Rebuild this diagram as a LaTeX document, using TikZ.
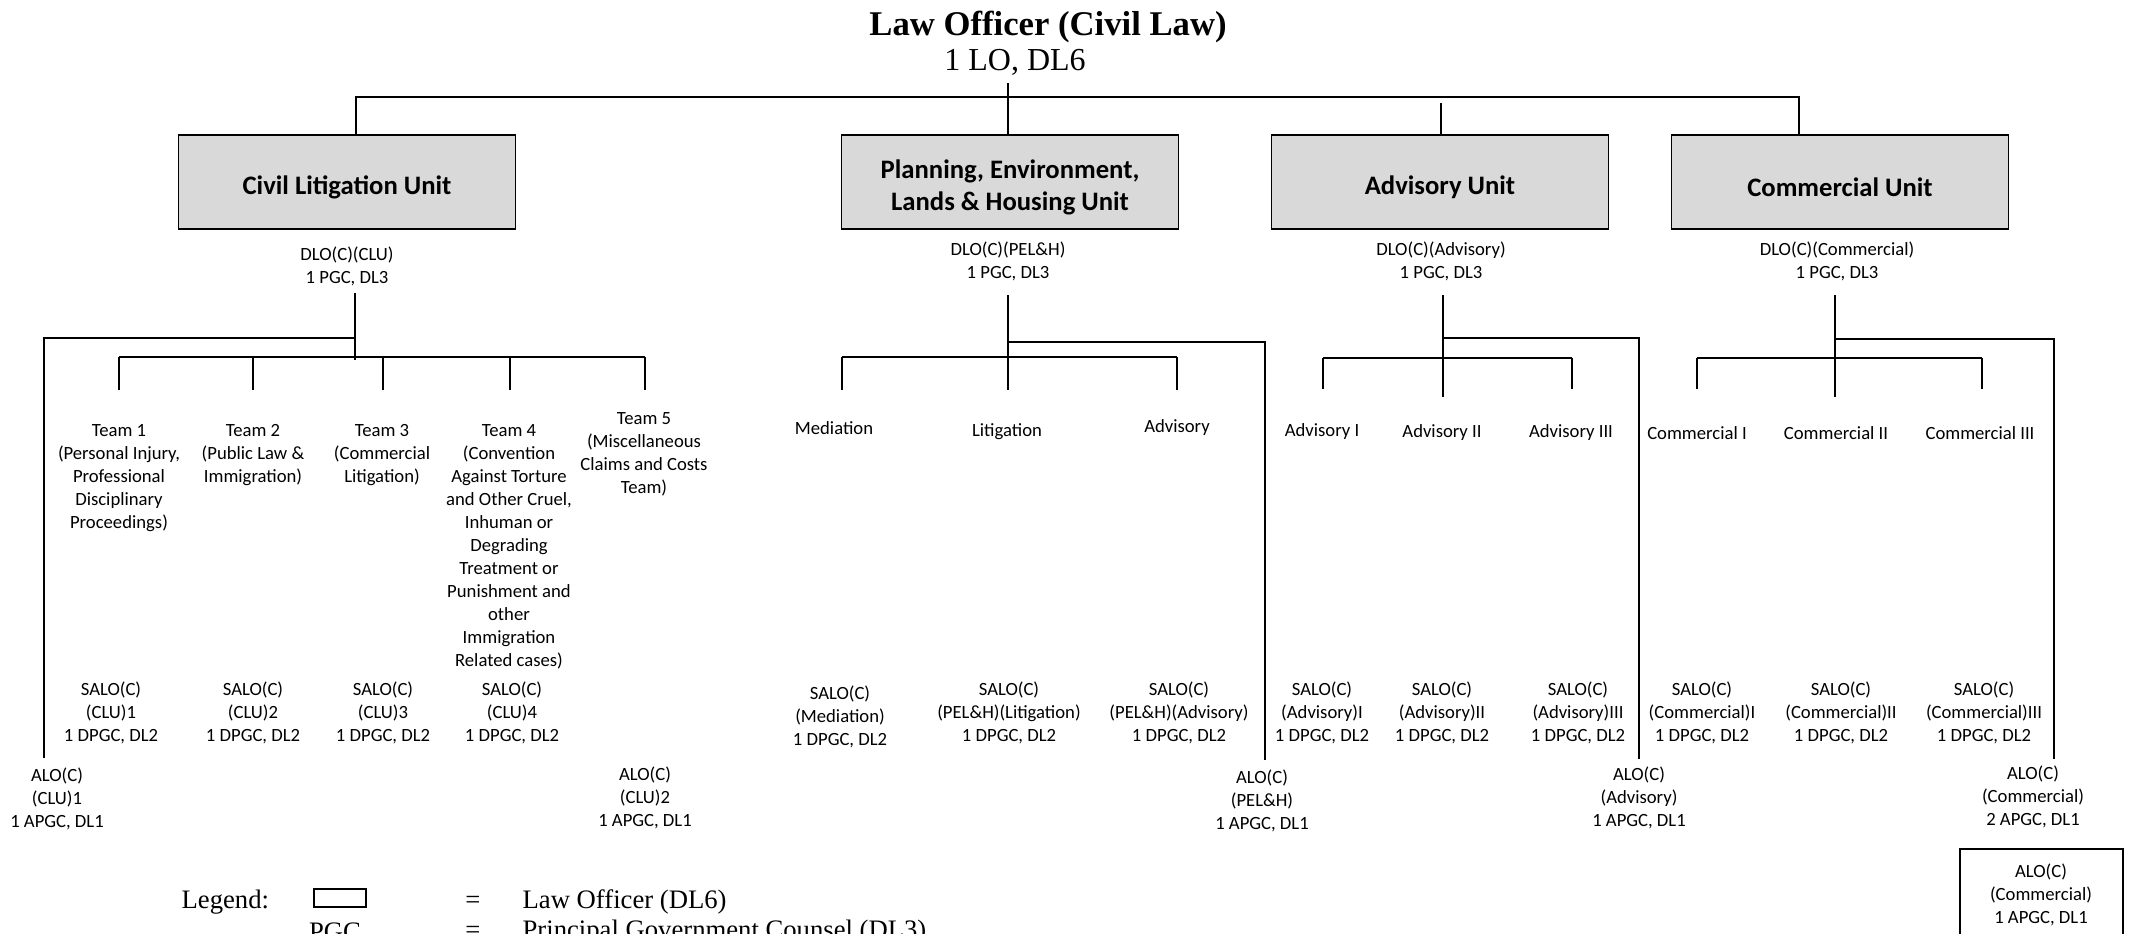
\documentclass[tikz,border=0pt]{standalone}
\usepackage{fontspec}
\setmainfont{Liberation Serif}
\newfontfamily\carlito{Carlito}
\definecolor{unitgray}{HTML}{D9D9D9}
\tikzset{
	unittext/.style={inner sep=0pt, align=center, yshift=-3.75pt, font=\carlito\bfseries\fontsize{20}{24}\selectfont},
	unitbox/.style={draw=black, line width=1pt, fill=unitgray, minimum width=252.75pt, minimum height=70.5pt, label={[unittext]center:#1}},
	lbl/.style={inner sep=0pt, align=center, font=\carlito\fontsize{14}{17.25}\selectfont},
	leg/.style={inner sep=0pt, font=\fontsize{20}{24}\selectfont}
}

\begin{document}
\begin{tikzpicture}[x=0.75pt, y=-0.75pt, line width=1pt]
		\useasboundingbox (0,0) rectangle (2132,933);
		\clip (0,0) rectangle (2132,933);
		% head
		\node[inner sep=0pt, font=\bfseries\fontsize{26}{30}\selectfont] (lo) at (1048,27) {Law Officer (Civil Law)};
		\node[inner sep=0pt, font=\fontsize{24}{28}\selectfont] (lodl) at (1015,62) {1 LO, DL6};
		\coordinate (lotop) at (1008,83);
		\coordinate (busl) at (356,97);
		\coordinate (busr) at (1799,97);
		\coordinate (advtop) at (1441,103);
		% units
		\node[unitbox={Civil Litigation Unit}] (clu) at (347,182) {};
		\node[unitbox={Planning, Environment,\\Lands \& Housing Unit}] (pel) at (1010,182) {};
		\node[unitbox={Advisory Unit}] (adv) at (1440,182) {};
		\node[unitbox={Commercial Unit}] (com) at (1840,182) {};
		\draw (clu.north -| busl) -- (busl) -- (busr) -- (com.north -| busr);
		\draw (lotop) -- (lotop |- pel.north);
		\draw (advtop) -- (advtop |- adv.north);
		% deputies
		\node[lbl] (dclu) at (347,266) {DLO(C)(CLU)\\1 PGC, DL3};
		\node[lbl] (dpel) at (1008,261) {DLO(C)(PEL\&H)\\1 PGC, DL3};
		\node[lbl] (dadv) at (1441,261) {DLO(C)(Advisory)\\1 PGC, DL3};
		\node[lbl] (dcom) at (1837,261) {DLO(C)(Commercial)\\1 PGC, DL3};
		% civil litigation unit
		\coordinate (cs0) at (355,293);
		\coordinate (cs1) at (355,360);
		\coordinate (cb) at (44,338);
		\coordinate (cbe) at (44,758);
		\draw (cs0) -- (cs1);
		\draw (cs0 |- cb) -- (cb) -- (cbe);
		\draw (119,357) -- (645,357);
		\foreach \x in {119,253,383,510,645} \draw (\x,357) -- (\x,390);
		\node[lbl] (t1) at (119,478) {Team 1\\(Personal Injury,\\Professional\\Disciplinary\\Proceedings)};
		\node[lbl] (t2) at (253,455) {Team 2\\(Public Law \&\\Immigration)};
		\node[lbl] (t3) at (382,455) {Team 3\\(Commercial\\Litigation)};
		\node[lbl] (t4) at (509,547) {Team 4\\(Convention\\Against Torture\\and Other Cruel,\\Inhuman or\\Degrading\\Treatment or\\Punishment and\\other\\Immigration\\Related cases)};
		\node[lbl] (t5) at (644,454.5) {Team 5\\(Miscellaneous\\Claims and Costs\\Team)};
		\node[lbl] (sc1) at (111,713) {SALO(C)\\(CLU)1\\1 DPGC, DL2};
		\node[lbl] (sc2) at (253,713) {SALO(C)\\(CLU)2\\1 DPGC, DL2};
		\node[lbl] (sc3) at (383,713) {SALO(C)\\(CLU)3\\1 DPGC, DL2};
		\node[lbl] (sc4) at (512,713) {SALO(C)\\(CLU)4\\1 DPGC, DL2};
		\node[lbl] (ac1) at (57,799) {ALO(C)\\(CLU)1\\1 APGC, DL1};
		\node[lbl] (ac2) at (645,798) {ALO(C)\\(CLU)2\\1 APGC, DL1};
		% planning, environment, lands & housing unit
		\coordinate (ps0) at (1008,295);
		\coordinate (ps1) at (1008,390);
		\coordinate (pb) at (1265,342);
		\coordinate (pbe) at (1265,760);
		\draw (ps0) -- (ps1);
		\draw (ps0 |- pb) -- (pb) -- (pbe);
		\draw (842,357) -- (1177,357);
		\foreach \x in {842,1177} \draw (\x,357) -- (\x,390);
		\node[lbl] (pm) at (834,428) {Mediation};
		\node[lbl] (pl) at (1007,432) {Litigation};
		\node[lbl] (pa) at (1177,428) {Advisory};
		\node[lbl] (spm) at (840,717) {SALO(C)\\(Mediation)\\1 DPGC, DL2};
		\node[lbl] (spl) at (1009,713) {SALO(C)\\(PEL\&H)(Litigation)\\1 DPGC, DL2};
		\node[lbl] (spa) at (1179,713) {SALO(C)\\(PEL\&H)(Advisory)\\1 DPGC, DL2};
		\node[lbl] (ap) at (1262,801) {ALO(C)\\(PEL\&H)\\1 APGC, DL1};
		% advisory unit
		\coordinate (as0) at (1443,295);
		\coordinate (as1) at (1443,397);
		\coordinate (ab) at (1639,338);
		\coordinate (abe) at (1639,759);
		\draw (as0) -- (as1);
		\draw (as0 |- ab) -- (ab) -- (abe);
		\draw (1323,358) -- (1572,358);
		\foreach \x in {1323,1572} \draw (\x,358) -- (\x,389);
		\node[lbl] (a1) at (1322,432) {Advisory I};
		\node[lbl] (a2) at (1442,433) {Advisory II};
		\node[lbl] (a3) at (1571,433) {Advisory III};
		\node[lbl] (sa1) at (1322,713) {SALO(C)\\(Advisory)I\\1 DPGC, DL2};
		\node[lbl] (sa2) at (1442,713) {SALO(C)\\(Advisory)II\\1 DPGC, DL2};
		\node[lbl] (sa3) at (1578,713) {SALO(C)\\(Advisory)III\\1 DPGC, DL2};
		\node[lbl] (aa) at (1639,798) {ALO(C)\\(Advisory)\\1 APGC, DL1};
		% commercial unit
		\coordinate (ms0) at (1835,295);
		\coordinate (ms1) at (1835,397);
		\coordinate (mb) at (2054,339);
		\coordinate (mbe) at (2054,759);
		\draw (ms0) -- (ms1);
		\draw (ms0 |- mb) -- (mb) -- (mbe);
		\draw (1697,358) -- (1982,358);
		\foreach \x in {1697,1982} \draw (\x,358) -- (\x,389);
		\node[lbl] (m1) at (1697,433) {Commercial I};
		\node[lbl] (m2) at (1836,433) {Commercial II};
		\node[lbl] (m3) at (1980,433) {Commercial III};
		\node[lbl] (sm1) at (1702,713) {SALO(C)\\(Commercial)I\\1 DPGC, DL2};
		\node[lbl] (sm2) at (1841,713) {SALO(C)\\(Commercial)II\\1 DPGC, DL2};
		\node[lbl] (sm3) at (1984,713) {SALO(C)\\(Commercial)III\\1 DPGC, DL2};
		\node[lbl] (am) at (2033,797) {ALO(C)\\(Commercial)\\2 APGC, DL1};
		\draw (1960,849) rectangle (2123,960);
		\node[lbl] (amx) at (2041,895) {ALO(C)\\(Commercial)\\1 APGC, DL1};
		% legend
		\node[leg, anchor=west] (legend) at (181,902) {Legend:};
		\draw[line width=1.2pt] (314,889) rectangle (366,907);
		\node[leg] (eq1) at (473,902) {=};
		\node[leg, anchor=west] (lgo) at (522,902) {Law Officer (DL6)};
		\node[leg] (pgc) at (335,932) {PGC};
		\node[leg] (eq2) at (473,932) {=};
		\node[leg, anchor=west] (lgp) at (522,932) {Principal Government Counsel (DL3)};
	\end{tikzpicture}
\end{document}
